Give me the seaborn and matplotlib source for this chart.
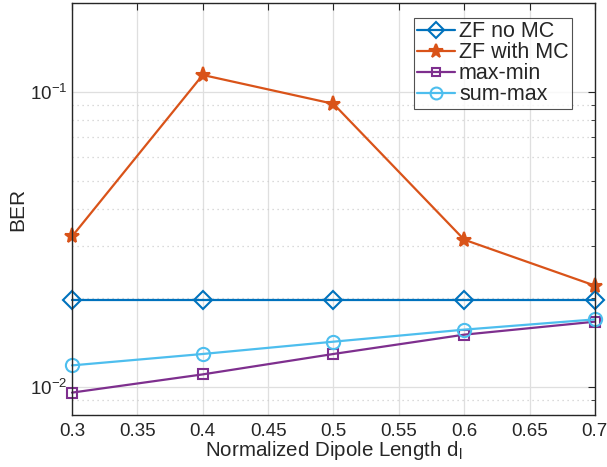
import numpy as np
import pandas as pd
import matplotlib
matplotlib.use("Agg")
import matplotlib.pyplot as plt
import seaborn as sns
from matplotlib.ticker import LogLocator, NullFormatter

# ---- data ----
dipole_length = [0.3, 0.4, 0.5, 0.6, 0.7]
ber_zf_no_mc = [0.0197, 0.0197, 0.0197, 0.0197, 0.0197]
ber_zf_with_mc = [0.0323, 0.114, 0.091, 0.0315, 0.022]
ber_max_min = [0.00954, 0.0110, 0.0129, 0.0150, 0.0166]
ber_sum_max = [0.0118, 0.0129, 0.0142, 0.0156, 0.0169]
series_names = ["ZF no MC", "ZF with MC", "max-min", "sum-max"]
x_ticks = [0.3, 0.35, 0.4, 0.45, 0.5, 0.55, 0.6, 0.65, 0.7]
x_tick_labels = ["0.3", "0.35", "0.4", "0.45", "0.5", "0.55", "0.6", "0.65", "0.7"]

values = [ber_zf_no_mc, ber_zf_with_mc, ber_max_min, ber_sum_max]
df = pd.concat([pd.DataFrame({"d": dipole_length, "BER": v, "scheme": n})
                for n, v in zip(series_names, values)], ignore_index=True)

colors = ["#0072BD", "#D95319", "#7E2F8E", "#4DBEEE"]
markers = ["D", "*", "s", "o"]
msizes = [9.5, 11, 7, 9.5]
filled = [False, True, False, False]

sns.set_style("white")
plt.rcParams["font.family"] = ["Liberation Sans", "DejaVu Sans"]
plt.rcParams["mathtext.fontset"] = "custom"
plt.rcParams["mathtext.rm"] = "Liberation Sans"
plt.rcParams["mathtext.it"] = "Liberation Sans"

fig = plt.figure(figsize=(6.07, 4.67), dpi=100)
ax = fig.add_axes([0.1186, 0.111, 0.8614, 0.8826])

sns.lineplot(data=df, x="d", y="BER", hue="scheme", style="scheme",
             hue_order=series_names, style_order=series_names,
             palette=dict(zip(series_names, colors)),
             markers=dict(zip(series_names, markers)),
             dashes=False, legend=False, linewidth=1.6, ax=ax)

for line, c, ms, f in zip(ax.lines, colors, msizes, filled):
    line.set_markerfacecolor(c if f else "none")
    line.set_markeredgecolor(c)
    line.set_markeredgewidth(1.5)
    line.set_markersize(ms)
    line.set_clip_on(False)

ax.set_yscale("log")
ax.set_xlim(0.3, 0.7)
ax.set_ylim(0.008, 0.2)
ax.set_xticks(x_ticks)
ax.set_xticklabels(x_tick_labels)
ax.yaxis.set_major_locator(LogLocator(base=10, numticks=10))
ax.yaxis.set_minor_locator(LogLocator(base=10, subs=np.arange(2, 10), numticks=20))
ax.yaxis.set_minor_formatter(NullFormatter())

ax.grid(True, which="major", axis="both", color="#DFDFDF", linestyle="-", linewidth=0.9)
ax.grid(True, which="minor", axis="y", color="#CFCFCF", linestyle=(0, (1, 3)), linewidth=0.9)
ax.set_axisbelow(True)

for s in ax.spines.values():
    s.set_color("#262626")
    s.set_linewidth(1.0)
ax.tick_params(which="both", direction="in", top=True, right=True,
               colors="#262626", labelsize=13.5, labelcolor="#262626")
ax.tick_params(which="major", length=5)
ax.tick_params(which="minor", length=3)
ax.tick_params(axis="x", pad=6)

ax.set_xlabel(r"Normalized Dipole Length d$_\mathregular{l}$", fontsize=14.8, color="#262626", labelpad=-1)
ax.set_ylabel("BER", fontsize=15, color="#262626", labelpad=2)

leg = ax.legend(ax.lines, series_names, loc="upper right", bbox_to_anchor=(0.956, 0.963),
                fontsize=15.5, frameon=True, fancybox=False, handlelength=1.75,
                handletextpad=0.2, borderpad=0.15, labelspacing=0.0, borderaxespad=0.0)
leg.get_frame().set_edgecolor("#262626")
leg.get_frame().set_linewidth(0.8)
for h in leg.legend_handles:
    h.set_markersize(h.get_markersize() * 0.9)

fig.savefig("out.png", dpi=100)
